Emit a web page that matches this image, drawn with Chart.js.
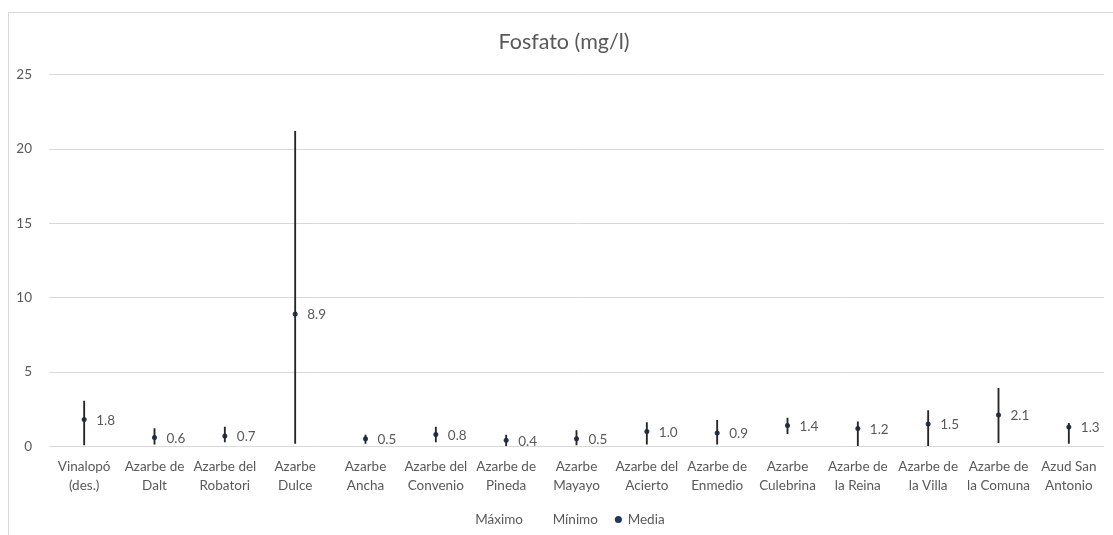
<!DOCTYPE html>
<html>
<head>
<meta charset="utf-8">
<script src="https://cdn.jsdelivr.net/npm/chart.js@4.4.1/dist/chart.umd.min.js"></script>
<style>
    body { margin: 0; background: #fff; }
    #wrap { position: relative; width: 1113px; height: 535px; overflow: hidden; }
    #frame { position: absolute; left: 8px; top: 12px; width: 1200px; height: 600px; border: 1px solid #d9d9d9; }
    #chart { position: absolute; left: 0; top: 0; }
</style>
</head>
<body>
<div id="wrap">
    <div id="frame"></div>
    <canvas id="chart" width="1113" height="535"></canvas>
</div>
<script>
// Fosfato (mg/l) por punto de muestreo
const categories = [
    ['Vinalopó', '(des.)'], ['Azarbe de', 'Dalt'], ['Azarbe del', 'Robatori'], ['Azarbe', 'Dulce'],
    ['Azarbe', 'Ancha'], ['Azarbe del', 'Convenio'], ['Azarbe de', 'Pineda'], ['Azarbe', 'Mayayo'],
    ['Azarbe del', 'Acierto'], ['Azarbe de', 'Enmedio'], ['Azarbe', 'Culebrina'], ['Azarbe de', 'la Reina'],
    ['Azarbe de', 'la Villa'], ['Azarbe de', 'la Comuna'], ['Azud San', 'Antonio']
];
const maximo = [3.05, 1.2, 1.3, 21.2, 0.75, 1.3, 0.75, 1.05, 1.6, 1.75, 1.9, 1.65, 2.4, 3.9, 1.55];
const minimo = [0.1, 0.15, 0.3, 0.2, 0.2, 0.3, 0.05, 0.1, 0.15, 0.15, 0.85, 0.05, 0.05, 0.25, 0.2];
const media = [1.8, 0.6, 0.7, 8.9, 0.5, 0.8, 0.4, 0.5, 1.0, 0.9, 1.4, 1.2, 1.5, 2.1, 1.3];
const yTicks = [0, 5, 10, 15, 20, 25];

const FONT = 'Lato, "Open Sans", sans-serif';
const GREY = '#595959';

// min-max range as floating bars
const rangos = maximo.map((v, i) => [minimo[i], v]);

// value labels to the right of the Media points
const mediaLabels = {
    id: 'mediaLabels',
    afterDatasetsDraw(chart) {
        const meta = chart.getDatasetMeta(3);
        const ctx = chart.ctx;
        ctx.save();
        ctx.font = '13.5px ' + FONT;
        ctx.fillStyle = GREY;
        ctx.textAlign = 'left';
        ctx.textBaseline = 'middle';
        meta.data.forEach((pt, i) => {
            ctx.fillText(media[i].toFixed(1), pt.x + 12, pt.y + 1);
        });
        ctx.restore();
    }
};

const ctx = document.getElementById('chart').getContext('2d');
new Chart(ctx, {
    type: 'bar',
    data: {
        labels: categories,
        datasets: [
            {
                type: 'line', label: 'Máximo', data: maximo, showLine: false, pointRadius: 0,
                pointBackgroundColor: 'rgba(0,0,0,0)', pointBorderColor: 'rgba(0,0,0,0)',
                backgroundColor: 'rgba(0,0,0,0)', borderColor: 'rgba(0,0,0,0)'
            },
            {
                type: 'line', label: 'Mínimo', data: minimo, showLine: false, pointRadius: 0,
                pointBackgroundColor: 'rgba(0,0,0,0)', pointBorderColor: 'rgba(0,0,0,0)',
                backgroundColor: 'rgba(0,0,0,0)', borderColor: 'rgba(0,0,0,0)'
            },
            {
                type: 'bar', label: 'Rango', data: rangos,
                backgroundColor: '#262626', barThickness: 1.2, borderSkipped: false
            },
            {
                type: 'line', label: 'Media', data: media, showLine: false,
                pointRadius: 2.5, pointBorderWidth: 0, pointStyle: 'circle',
                pointBackgroundColor: '#1f3864', pointBorderColor: '#1f3864',
                backgroundColor: '#1f3864', borderColor: '#1f3864'
            }
        ]
    },
    options: {
        responsive: false,
        animation: false,
        // negative right padding + empty right axis keeps title/legend centred like the original
        layout: { padding: { left: 0, right: -15, top: 0, bottom: -1.3 } },
        plugins: {
            title: {
                display: true,
                text: 'Fosfato (mg/l)',
                color: GREY,
                font: { family: FONT, size: 21.5, weight: 'normal' },
                padding: { top: 29, bottom: 20 }
            },
            legend: {
                position: 'bottom',
                labels: {
                    color: GREY,
                    font: { family: FONT, size: 13.5 },
                    usePointStyle: true,
                    boxWidth: 5,
                    boxHeight: 5,
                    padding: 18,
                    filter: item => item.text !== 'Rango'
                }
            },
            tooltip: { enabled: false }
        },
        scales: {
            x: {
                grid: { display: false, drawTicks: false },
                border: { display: false },
                afterFit: s => { s.height = 48.5; },
                ticks: {
                    color: GREY,
                    font: { family: FONT, size: 13.5, lineHeight: 1.4 },
                    padding: 10.5,
                    maxRotation: 0,
                    autoSkip: false
                }
            },
            y: {
                min: yTicks[0],
                max: yTicks[yTicks.length - 1],
                afterFit: s => { s.width = 49; },
                afterBuildTicks: s => { s.ticks = yTicks.map(v => ({ value: v })); },
                grid: { color: '#d9d9d9', drawTicks: false },
                border: { display: false },
                ticks: {
                    color: GREY,
                    font: { family: FONT, size: 13.5 },
                    padding: 17
                }
            },
            yPad: {
                display: true,
                position: 'right',
                afterFit: s => { s.width = 24; },
                grid: { display: false, drawTicks: false },
                border: { display: false },
                ticks: { display: false }
            }
        }
    },
    plugins: [mediaLabels]
});
</script>
</body>
</html>
